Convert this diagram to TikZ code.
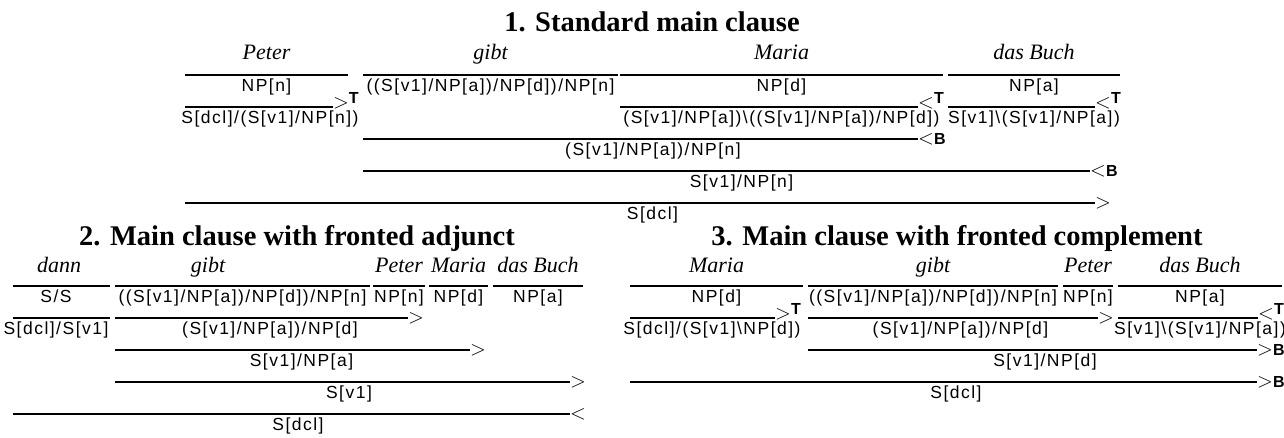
\documentclass[tikz,border=0pt]{standalone}
\usepackage{fontspec}
\newfontfamily\cgcatfam{Liberation Sans}[LetterSpace=8.5]
\newfontfamily\cgsansfam{Liberation Sans}
\newfontfamily\cgseriffam{Liberation Serif}
\newcommand{\cgcat}{\cgcatfam\fontsize{17.5}{19}\selectfont}
\newcommand{\cgword}{\cgseriffam\itshape\fontsize{22}{24}\selectfont}
\newcommand{\cgtitle}{\cgseriffam\bfseries\fontsize{28.5}{30}\selectfont}
\newcommand{\cgbold}{\cgsansfam\bfseries\fontsize{16}{16}\selectfont}
\newcommand{\cgsym}{\fontsize{20}{20}\selectfont}
\newcommand{\cgbs}{\textbackslash}
\newcommand{\labT}[1]{$#1$\raisebox{5pt}{\cgbold T}}
\newcommand{\labB}[1]{$#1$\cgbold B}
\tikzset{
  cat/.style={font=\cgcat, inner sep=0pt, anchor=base},
  word/.style={font=\cgword, inner sep=0pt, anchor=base},
  ttl/.style={font=\cgtitle, inner sep=0pt, anchor=base},
  drule/.style={line width=2.9pt},
  rlab/.style={font=\cgsym, inner sep=0pt, anchor=base west},
}
\begin{document}
\begin{tikzpicture}[x=1pt,y=-1pt]
\useasboundingbox (0,0) rectangle (1284,437);
% ---------- 1 ----------
\node[ttl] (t1) at (652,31) {1. Standard main clause};
\node[word] (w1a) at (266.5,59) {Peter};
\node[word] (w1b) at (490.5,59) {gibt};
\node[word] (w1c) at (781.5,59) {Maria};
\node[word] (w1d) at (1034,59) {das Buch};
\draw[drule] (185,75) -- (348,75);
\draw[drule] (363,75) -- (618,75);
\draw[drule] (620,75) -- (943,75);
\draw[drule] (948,75) -- (1120,75);
\node[cat] (c1a) at (266.5,91.5) {NP[n]};
\node[cat] (c1b) at (490.5,91.5) {((S[v1]/NP[a])/NP[d])/NP[n]};
\node[cat] (c1c) at (781.5,91.5) {NP[d]};
\node[cat] (c1d) at (1034,91.5) {NP[a]};
\draw[drule] (185,107) -- (333,107);
\node[rlab] (l1a) at (333,108) {\labT{>}};
\draw[drule] (620,107) -- (918,107);
\node[rlab] (l1b) at (918,108) {\labT{<}};
\draw[drule] (948,107) -- (1095,107);
\node[rlab] (l1c) at (1095,108) {\labT{<}};
\node[cat] (d1a) at (270,123.5) {S[dcl]/(S[v1]/NP[n])};
\node[cat] (d1c) at (781.5,123.5) {(S[v1]/NP[a])\cgbs((S[v1]/NP[a])/NP[d])};
\node[cat] (d1d) at (1034,123.5) {S[v1]\cgbs(S[v1]/NP[a])};
\draw[drule] (363,139) -- (918,139);
\node[rlab] (l1d) at (918,144) {\labB{<}};
\node[cat] (e1) at (653,155.5) {(S[v1]/NP[a])/NP[n]};
\draw[drule] (363,171) -- (1090,171);
\node[rlab] (l1e) at (1090,176) {\labB{<}};
\node[cat] (f1) at (741.5,187.5) {S[v1]/NP[n]};
\draw[drule] (185,203) -- (1095,203);
\node[rlab] (l1f) at (1095,208) {$>$};
\node[cat] (g1) at (652.5,219.5) {S[dcl]};
% ---------- 2 ----------
\node[ttl] (t2) at (297,245) {2. Main clause with fronted adjunct};
\node[word] (w2a) at (59,272) {dann};
\node[word] (w2b) at (208,272) {gibt};
\node[word] (w2c) at (399,272) {Peter};
\node[word] (w2d) at (458.5,272) {Maria};
\node[word] (w2e) at (538,272) {das Buch};
\draw[drule] (13,286) -- (110,286);
\draw[drule] (115,286) -- (370,286);
\draw[drule] (373,286) -- (425,286);
\draw[drule] (429,286) -- (488,286);
\draw[drule] (493,286) -- (583,286);
\node[cat] (c2a) at (56,302.5) {S/S};
\node[cat] (c2b) at (242.5,302.5) {((S[v1]/NP[a])/NP[d])/NP[n]};
\node[cat] (c2c) at (399,302.5) {NP[n]};
\node[cat] (c2d) at (458.5,302.5) {NP[d]};
\node[cat] (c2e) at (538,302.5) {NP[a]};
\draw[drule] (13,318) -- (110,318);
\draw[drule] (115,318) -- (408,318);
\node[rlab] (l2a) at (408,323) {$>$};
\node[cat] (d2a) at (56,334.5) {S[dcl]/S[v1]};
\node[cat] (d2b) at (270,334.5) {(S[v1]/NP[a])/NP[d]};
\draw[drule] (115,350) -- (470,350);
\node[rlab] (l2b) at (470,355) {$>$};
\node[cat] (e2) at (301.5,366.5) {S[v1]/NP[a]};
\draw[drule] (115,382) -- (570,382);
\node[rlab] (l2c) at (570,387) {$>$};
\node[cat] (f2) at (349,398.5) {S[v1]};
\draw[drule] (13,414) -- (570,414);
\node[rlab] (l2d) at (570,419) {$<$};
\node[cat] (g2) at (298,430) {S[dcl]};
% ---------- 3 ----------
\node[ttl] (t3) at (957,245) {3. Main clause with fronted complement};
\node[word] (w3a) at (716.5,272) {Maria};
\node[word] (w3b) at (933,272) {gibt};
\node[word] (w3c) at (1088,272) {Peter};
\node[word] (w3d) at (1200,272) {das Buch};
\draw[drule] (630,286) -- (803,286);
\draw[drule] (808,286) -- (1058,286);
\draw[drule] (1063,286) -- (1113,286);
\draw[drule] (1118,286) -- (1282,286);
\node[cat] (c3a) at (716.5,302.5) {NP[d]};
\node[cat] (c3b) at (933,302.5) {((S[v1]/NP[a])/NP[d])/NP[n]};
\node[cat] (c3c) at (1088,302.5) {NP[n]};
\node[cat] (c3d) at (1200,302.5) {NP[a]};
\draw[drule] (630,318) -- (775,318);
\node[rlab] (l3a) at (775,319) {\labT{>}};
\draw[drule] (808,318) -- (1098,318);
\node[rlab] (l3b) at (1098,323) {$>$};
\draw[drule] (1118,318) -- (1258,318);
\node[rlab] (l3c) at (1258,319) {\labT{<}};
\node[cat] (d3a) at (712,334.5) {S[dcl]/(S[v1]\cgbs NP[d])};
\node[cat] (d3b) at (960.5,334.5) {(S[v1]/NP[a])/NP[d]};
\node[cat] (d3c) at (1200,334.5) {S[v1]\cgbs(S[v1]/NP[a])};
\draw[drule] (808,350) -- (1257,350);
\node[rlab] (l3d) at (1257,355) {\labB{>}};
\node[cat] (e3) at (1045,366.5) {S[v1]/NP[d]};
\draw[drule] (630,382) -- (1257,382);
\node[rlab] (l3e) at (1257,387) {\labB{>}};
\node[cat] (f3) at (956,398.5) {S[dcl]};
\end{tikzpicture}
\end{document}
